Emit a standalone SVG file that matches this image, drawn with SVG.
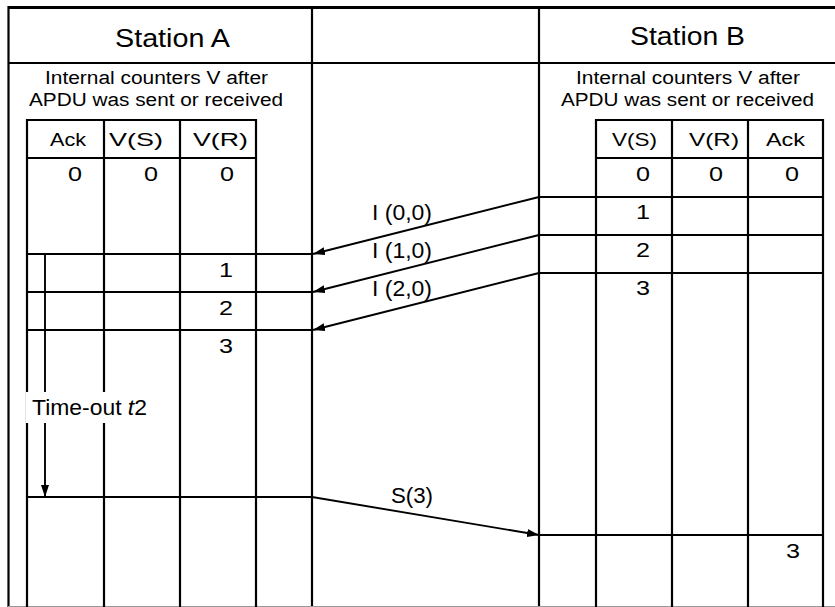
<svg xmlns="http://www.w3.org/2000/svg" width="835" height="607" viewBox="0 0 835 607">
<style>
text{font-family:"Liberation Sans",Arial,Helvetica,sans-serif;fill:#000}
.ln{stroke:#000;stroke-width:2.2;fill:none}
.thick{stroke:#000;stroke-width:3.2;fill:none}
.arr{stroke:#000;stroke-width:1.9;fill:none;marker-end:url(#ah)}
.st{font-size:26px}
.ic{font-size:18px}
.hd{font-size:19px}
.num{font-size:21px;text-anchor:middle}
.lbl{font-size:22px}
</style>
<defs>
<marker id="ah" markerUnits="userSpaceOnUse" markerWidth="12" markerHeight="8" refX="12" refY="4" orient="auto">
<path d="M0,0 L12,4 L0,8 z" fill="#000"/>
</marker>
</defs>
<rect width="835" height="607" fill="#fff"/>
<g id="frame">
<line class="thick" x1="8" y1="7.5" x2="835" y2="7.5"/>
<line class="ln" x1="8.5" y1="6" x2="8.5" y2="607"/>
<line class="ln" x1="8" y1="63" x2="835" y2="63"/>
<line class="ln" x1="312" y1="7" x2="312" y2="607"/>
<line class="ln" x1="539" y1="7" x2="539" y2="607"/>
<line x1="8" y1="606.5" x2="835" y2="606.5" stroke="#999" stroke-width="1"/>
</g>
<g id="stationA">
<text class="st" x="115" y="47" textLength="115" lengthAdjust="spacingAndGlyphs">Station A</text>
<text class="ic" x="45" y="84" textLength="223" lengthAdjust="spacingAndGlyphs">Internal counters V after</text>
<text class="ic" x="29" y="106" textLength="254" lengthAdjust="spacingAndGlyphs">APDU was sent or received</text>
<line class="ln" x1="27" y1="120" x2="256" y2="120"/>
<line class="ln" x1="27" y1="158" x2="256" y2="158"/>
<line class="ln" x1="27" y1="119" x2="27" y2="607"/>
<line class="ln" x1="104" y1="119" x2="104" y2="607"/>
<line class="ln" x1="180" y1="119" x2="180" y2="607"/>
<line class="ln" x1="256" y1="119" x2="256" y2="607"/>
<line class="ln" x1="27" y1="254" x2="312" y2="254"/>
<line class="ln" x1="27" y1="292" x2="312" y2="292"/>
<line class="ln" x1="27" y1="330" x2="312" y2="330"/>
<line class="ln" x1="27" y1="497" x2="312" y2="497"/>
<text class="hd" x="50" y="146" textLength="36" lengthAdjust="spacingAndGlyphs">Ack</text>
<text class="hd" x="109" y="146" textLength="54" lengthAdjust="spacingAndGlyphs">V(S)</text>
<text class="hd" x="193" y="146" textLength="55" lengthAdjust="spacingAndGlyphs">V(R)</text>
<text class="num" x="75" y="181" textLength="14" lengthAdjust="spacingAndGlyphs">0</text>
<text class="num" x="151" y="181" textLength="14" lengthAdjust="spacingAndGlyphs">0</text>
<text class="num" x="227" y="181" textLength="14" lengthAdjust="spacingAndGlyphs">0</text>
<text class="num" x="226" y="277" textLength="14" lengthAdjust="spacingAndGlyphs">1</text>
<text class="num" x="226" y="315" textLength="14" lengthAdjust="spacingAndGlyphs">2</text>
<text class="num" x="226" y="353" textLength="14" lengthAdjust="spacingAndGlyphs">3</text>
</g>
<g id="stationB">
<text class="st" x="630" y="45" textLength="115" lengthAdjust="spacingAndGlyphs">Station B</text>
<text class="ic" x="576" y="84" textLength="224" lengthAdjust="spacingAndGlyphs">Internal counters V after</text>
<text class="ic" x="561" y="106" textLength="253" lengthAdjust="spacingAndGlyphs">APDU was sent or received</text>
<line class="ln" x1="596" y1="120" x2="823" y2="120"/>
<line class="ln" x1="596" y1="158" x2="823" y2="158"/>
<line class="ln" x1="596" y1="119" x2="596" y2="607"/>
<line class="ln" x1="672" y1="119" x2="672" y2="607"/>
<line class="ln" x1="748" y1="119" x2="748" y2="607"/>
<line class="ln" x1="823" y1="119" x2="823" y2="607"/>
<line class="ln" x1="539" y1="197" x2="823" y2="197"/>
<line class="ln" x1="539" y1="235" x2="823" y2="235"/>
<line class="ln" x1="539" y1="273" x2="823" y2="273"/>
<line class="ln" x1="539" y1="535" x2="823" y2="535"/>
<text class="hd" x="612" y="146" textLength="45" lengthAdjust="spacingAndGlyphs">V(S)</text>
<text class="hd" x="689" y="146" textLength="50" lengthAdjust="spacingAndGlyphs">V(R)</text>
<text class="hd" x="766" y="146" textLength="39" lengthAdjust="spacingAndGlyphs">Ack</text>
<text class="num" x="643" y="181" textLength="14" lengthAdjust="spacingAndGlyphs">0</text>
<text class="num" x="716" y="181" textLength="14" lengthAdjust="spacingAndGlyphs">0</text>
<text class="num" x="792" y="181" textLength="14" lengthAdjust="spacingAndGlyphs">0</text>
<text class="num" x="643" y="219" textLength="14" lengthAdjust="spacingAndGlyphs">1</text>
<text class="num" x="643" y="257" textLength="14" lengthAdjust="spacingAndGlyphs">2</text>
<text class="num" x="643" y="295" textLength="14" lengthAdjust="spacingAndGlyphs">3</text>
<text class="num" x="793" y="558" textLength="14" lengthAdjust="spacingAndGlyphs">3</text>
</g>
<g id="connectors">
<line class="arr" x1="539" y1="197" x2="313" y2="254"/>
<line class="arr" x1="539" y1="235" x2="313" y2="292"/>
<line class="arr" x1="539" y1="273" x2="313" y2="330"/>
<line class="arr" x1="312" y1="497" x2="539" y2="535"/>
<line class="arr" x1="45" y1="255" x2="45" y2="497"/>
</g>
<g id="labels">
<text class="lbl" x="372" y="220" textLength="60" lengthAdjust="spacingAndGlyphs">I (0,0)</text>
<text class="lbl" x="372" y="258" textLength="60" lengthAdjust="spacingAndGlyphs">I (1,0)</text>
<text class="lbl" x="372" y="296" textLength="60" lengthAdjust="spacingAndGlyphs">I (2,0)</text>
<text class="lbl" x="391" y="503" textLength="42" lengthAdjust="spacingAndGlyphs">S(3)</text>
<rect x="26" y="392" width="124" height="31" fill="#fff"/>
<text class="lbl" x="32" y="415" textLength="115" lengthAdjust="spacingAndGlyphs">Time-out <tspan font-style="italic">t</tspan>2</text>
</g>
</svg>
